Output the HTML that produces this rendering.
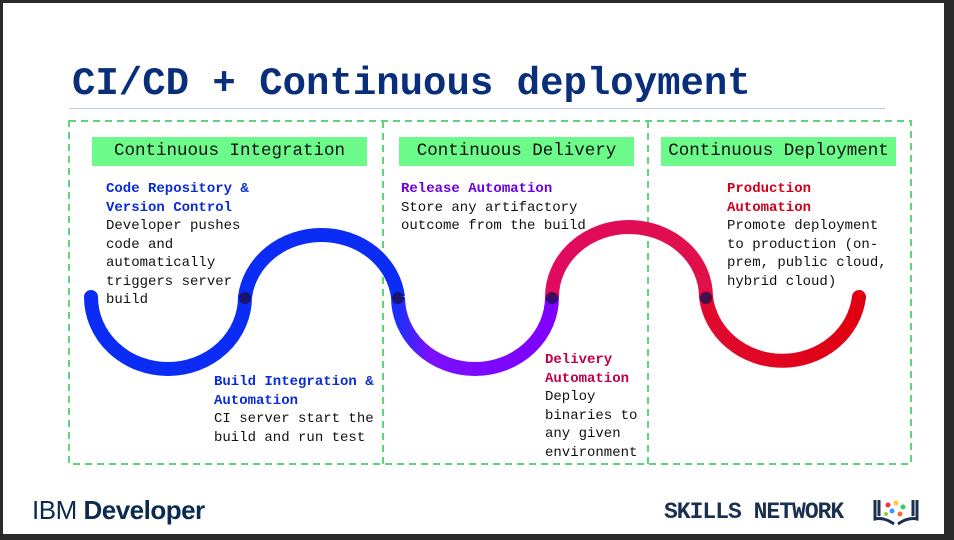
<!DOCTYPE html>
<html><head><style>
body{margin:0;background:#222;}
#p{position:relative;width:954px;height:540px;background:#2a2a2a;overflow:hidden;font-family:"Liberation Mono",monospace;}
#w{position:absolute;left:3px;top:3px;width:941px;height:531px;background:#fff;}
.t{position:absolute;white-space:pre;font-size:14px;line-height:18.5px;color:#111;}
.h{position:absolute;background:#6cfa8a;height:29px;font-size:17.5px;line-height:29px;text-align:center;color:#111;}
b{font-weight:bold;}
</style></head><body><div id="p"><div id="w"></div>
<div style="position:absolute;left:72px;top:62px;font-size:39px;font-weight:bold;color:#0a2f7a;white-space:pre;">CI/CD + Continuous deployment</div>
<div style="position:absolute;left:69px;top:108px;width:816px;height:1px;background:#b8c8e8;"></div>
<svg style="position:absolute;left:0;top:0" width="954" height="540">
<rect x="69" y="121" width="842" height="343" fill="none" stroke="#5fd47a" stroke-width="2" stroke-dasharray="7,5"/>
<line x1="383" y1="121" x2="383" y2="464" stroke="#5fd47a" stroke-width="2" stroke-dasharray="7,5"/>
<line x1="648" y1="121" x2="648" y2="464" stroke="#5fd47a" stroke-width="2" stroke-dasharray="7,5"/>
<defs>
<linearGradient id="g1" x1="0" x2="1"><stop offset="0" stop-color="#1a30ff"/><stop offset="0.2" stop-color="#7a10ff"/><stop offset="1" stop-color="#8000ff"/></linearGradient>
<linearGradient id="g2" x1="0" x2="1"><stop offset="0" stop-color="#e00a60"/><stop offset="1" stop-color="#e0104a"/></linearGradient>
<linearGradient id="g3" x1="0" x2="1"><stop offset="0" stop-color="#e00a30"/><stop offset="1" stop-color="#e00010"/></linearGradient>
</defs>
<g fill="none" stroke-width="14">
<path d="M91 297 A77 72 0 0 0 245 297" stroke="#0a2cf5" stroke-linecap="round"/>
<path d="M245 297 A77 70 0 0 1 398 297" stroke="#0a2cf5"/>
<path d="M398 297 A77 72 0 0 0 552 297" stroke="url(#g1)"/>
<path d="M552 297 A77 70 0 0 1 706 297" stroke="url(#g2)"/>
<path d="M706 297 A77 72 0 0 0 859 297" stroke="url(#g3)" stroke-linecap="round"/>
</g>
<g fill="#1a1050" opacity="0.8"><circle cx="245" cy="298" r="6"/><circle cx="398" cy="298" r="6"/><circle cx="552" cy="298" r="6"/><circle cx="706" cy="298" r="6"/></g>
</svg>
<div class="h" style="left:92px;top:137px;width:275px;">Continuous Integration</div>
<div class="h" style="left:399px;top:137px;width:235px;">Continuous Delivery</div>
<div class="h" style="left:661px;top:137px;width:235px;">Continuous Deployment</div>
<div class="t" style="left:106px;top:180px;"><b style="color:#0a2cd8">Code Repository &amp;
Version Control</b>
Developer pushes
code and
automatically
triggers server
build</div>
<div class="t" style="left:401px;top:180px;"><b style="color:#6a00e0">Release Automation</b>
Store any artifactory
outcome from the build</div>
<div class="t" style="left:727px;top:180px;"><b style="color:#d0001a">Production
Automation</b></div>
<div class="t" style="left:727px;top:217px;">Promote deployment
to production (on-
prem, public cloud,
hybrid cloud)</div>
<div class="t" style="left:214px;top:373px;"><b style="color:#0a2cd8">Build Integration &amp;
Automation</b>
CI server start the
build and run test</div>
<div class="t" style="left:545px;top:351px;"><b style="color:#c0004a">Delivery
Automation</b>
Deploy
binaries to
any given
environment</div>
<div style="position:absolute;left:32px;top:495px;font-family:'Liberation Sans',sans-serif;font-size:26px;color:#0a2a50;letter-spacing:-0.5px;">IBM <b>Developer</b></div>
<div style="position:absolute;left:664px;top:499px;font-family:'Liberation Mono',monospace;font-weight:bold;font-size:23px;color:#1a3050;letter-spacing:-1px;">SKILLS NETWORK</div>
<svg style="position:absolute;left:872px;top:497px" width="48" height="30">
<path d="M3 3 V22 Q12 20 22 27 M45 3 V22 Q36 20 26 27 M7 3 V19 M41 3 V19" stroke="#1a3050" stroke-width="3" fill="none"/>
<circle cx="16" cy="8" r="2.5" fill="#e33"/><circle cx="24" cy="6" r="2.5" fill="#fc3"/><circle cx="31" cy="10" r="2.5" fill="#3c6"/><circle cx="20" cy="14" r="2.5" fill="#39f"/><circle cx="28" cy="17" r="2.5" fill="#f63"/><circle cx="14" cy="17" r="2" fill="#9c3"/>
</svg>
</div></body></html>
